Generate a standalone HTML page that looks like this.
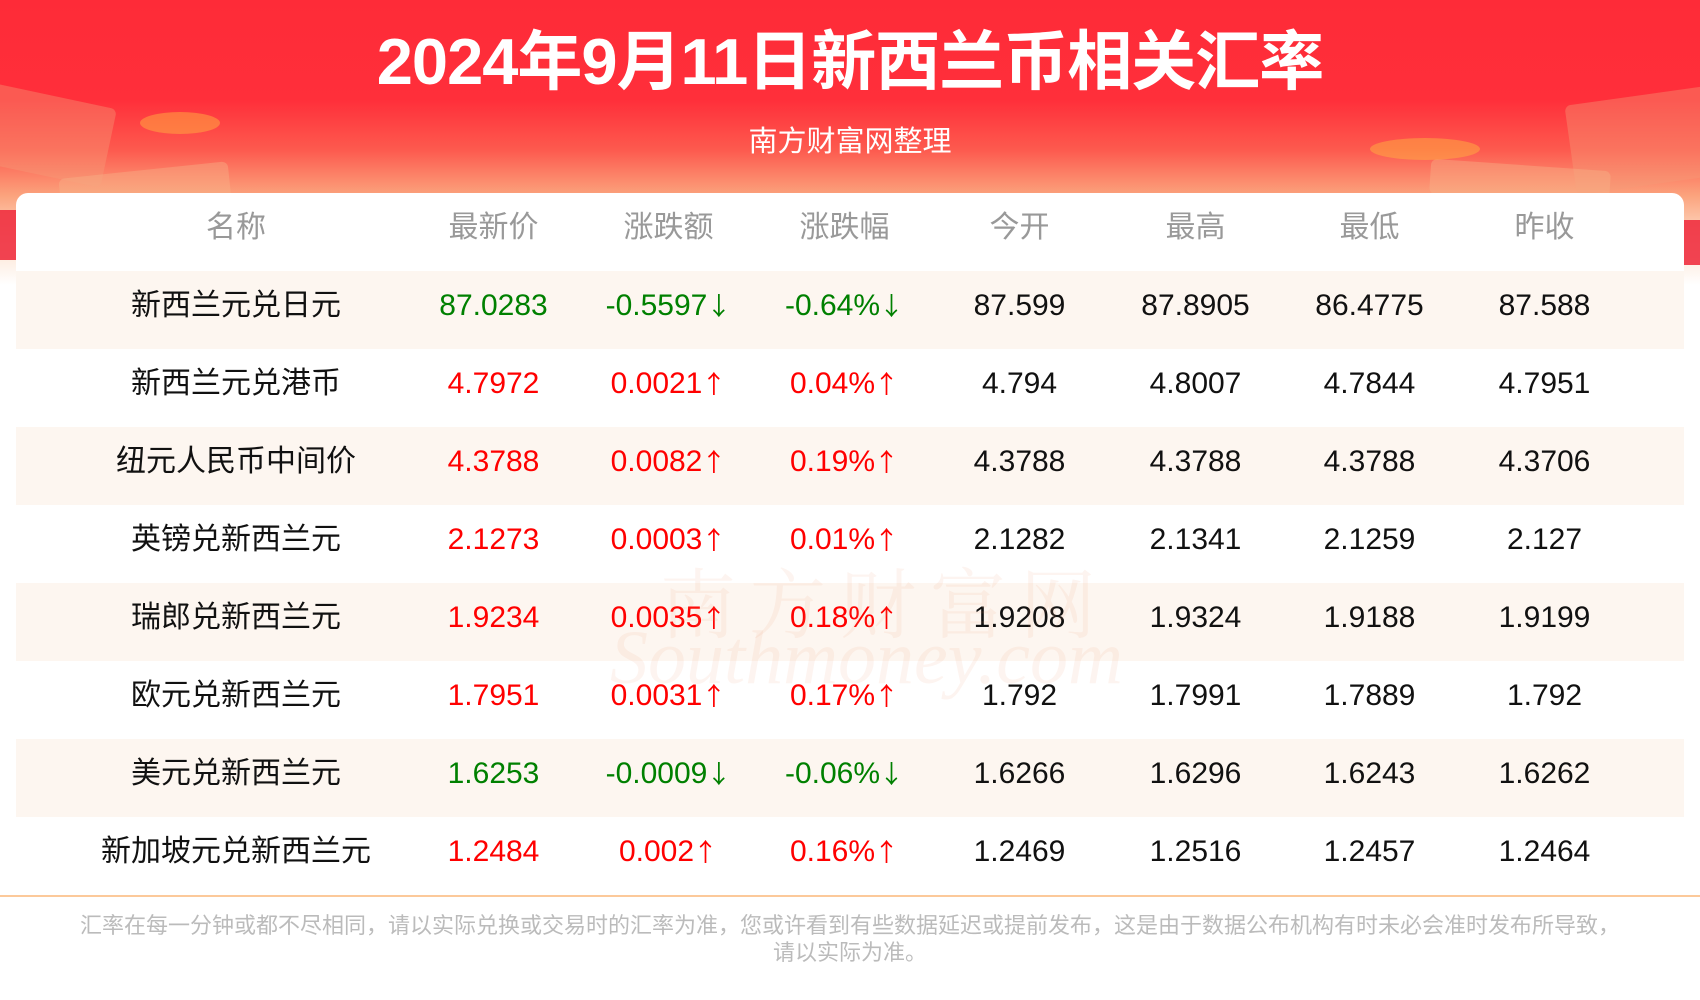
<!DOCTYPE html>
<html><head><meta charset="utf-8"><style>
*{margin:0;padding:0;box-sizing:border-box}
body{width:1700px;height:1000px;overflow:hidden;background:#fff;font-family:"Liberation Sans","Noto Sans CJK SC",sans-serif;position:relative}
.bg{position:absolute;left:0;top:0;width:1700px;height:290px;background:linear-gradient(#fe2b38 0,#ff2f3a 100px,#fd5a4e 150px,#fba27c 195px,#fde0cc 240px,#fff 285px)}
.deco{position:absolute;border-radius:6px;opacity:.4}
.title{position:absolute;left:0;top:24px;width:1700px;text-align:center;color:#fff;font-weight:bold;font-size:65px;line-height:76px;letter-spacing:-1px}
.sub{position:absolute;left:0;top:124px;width:1700px;text-align:center;color:#fff;font-size:29px;line-height:36px}
.card{position:absolute;left:16px;top:193px;width:1668px;height:703px;background:#fff;border-radius:12px 12px 0 0;overflow:hidden}
.row{position:absolute;left:0;width:1668px;height:78px}
.row.alt{background:#fdf6f0}
.c{position:absolute;top:-4px;height:78px;line-height:78px;text-align:center;font-size:30px;color:#111;white-space:nowrap}
.h .c{color:#999;font-size:30px;line-height:76px;top:-3px}
.a{font-family:"Noto Sans CJK SC",sans-serif;font-size:25px;line-height:0;display:inline-block;vertical-align:baseline;margin-left:-1px}
.r{color:#f00}.g{color:#008000}
.line{position:absolute;left:0;top:895px;width:1700px;height:2px;background:#fcc99a}
.foot{position:absolute;left:0;top:912px;width:1700px;text-align:center;color:#bbb;font-size:22px;line-height:27px}
.wm{position:absolute;left:660px;top:545px;font-size:76px;color:rgba(240,150,110,.10);letter-spacing:14px;font-family:"Noto Serif CJK SC",serif}
.wm2{position:absolute;left:610px;top:615px;font-size:76px;color:rgba(240,150,110,.10);font-style:italic;font-family:"Liberation Serif",serif}
</style></head><body>
<div class="bg"></div>
<div class="deco" style="left:-20px;top:95px;width:130px;height:80px;background:#f49a78;transform:rotate(12deg)"></div>
<div class="deco" style="left:60px;top:170px;width:170px;height:40px;background:#f7b38a;transform:rotate(-6deg)"></div>
<div class="deco" style="left:140px;top:112px;width:80px;height:22px;background:#ffb040;border-radius:50%;opacity:.5"></div>
<div class="deco" style="left:1570px;top:95px;width:150px;height:90px;background:#f49a78;transform:rotate(-8deg)"></div>
<div class="deco" style="left:1430px;top:165px;width:180px;height:35px;background:#f7b38a;transform:rotate(4deg)"></div>
<div class="deco" style="left:1370px;top:138px;width:110px;height:22px;background:#ffb040;border-radius:50%;opacity:.5"></div>
<div class="deco" style="left:0;top:210px;width:20px;height:50px;background:#f03040;opacity:.9;border-radius:0"></div>
<div class="deco" style="left:1684px;top:220px;width:16px;height:45px;background:#f03040;opacity:.9;border-radius:0"></div>
<div class="title">2024年9月11日新西兰币相关汇率</div>
<div class="sub">南方财富网整理</div>
<div class="card">
<div class="row h" style="top:0">
<div class="c" style="left:70px;width:300px">名称</div><div class="c" style="left:390px;width:175px">最新价</div><div class="c" style="left:565px;width:175px">涨跌额</div><div class="c" style="left:741px;width:175px">涨跌幅</div><div class="c" style="left:916px;width:175px">今开</div><div class="c" style="left:1092px;width:175px">最高</div><div class="c" style="left:1266px;width:175px">最低</div><div class="c" style="left:1441px;width:175px">昨收</div></div>
<div class="row alt" style="top:78px"><div class="c" style="left:70px;width:300px">新西兰元兑日元</div><div class="c g" style="left:390px;width:175px">87.0283</div><div class="c g" style="left:565px;width:175px">-0.5597<span class="a">↓</span></div><div class="c g" style="left:741px;width:175px">-0.64%<span class="a">↓</span></div><div class="c" style="left:916px;width:175px">87.599</div><div class="c" style="left:1092px;width:175px">87.8905</div><div class="c" style="left:1266px;width:175px">86.4775</div><div class="c" style="left:1441px;width:175px">87.588</div></div>
<div class="row" style="top:156px"><div class="c" style="left:70px;width:300px">新西兰元兑港币</div><div class="c r" style="left:390px;width:175px">4.7972</div><div class="c r" style="left:565px;width:175px">0.0021<span class="a">↑</span></div><div class="c r" style="left:741px;width:175px">0.04%<span class="a">↑</span></div><div class="c" style="left:916px;width:175px">4.794</div><div class="c" style="left:1092px;width:175px">4.8007</div><div class="c" style="left:1266px;width:175px">4.7844</div><div class="c" style="left:1441px;width:175px">4.7951</div></div>
<div class="row alt" style="top:234px"><div class="c" style="left:70px;width:300px">纽元人民币中间价</div><div class="c r" style="left:390px;width:175px">4.3788</div><div class="c r" style="left:565px;width:175px">0.0082<span class="a">↑</span></div><div class="c r" style="left:741px;width:175px">0.19%<span class="a">↑</span></div><div class="c" style="left:916px;width:175px">4.3788</div><div class="c" style="left:1092px;width:175px">4.3788</div><div class="c" style="left:1266px;width:175px">4.3788</div><div class="c" style="left:1441px;width:175px">4.3706</div></div>
<div class="row" style="top:312px"><div class="c" style="left:70px;width:300px">英镑兑新西兰元</div><div class="c r" style="left:390px;width:175px">2.1273</div><div class="c r" style="left:565px;width:175px">0.0003<span class="a">↑</span></div><div class="c r" style="left:741px;width:175px">0.01%<span class="a">↑</span></div><div class="c" style="left:916px;width:175px">2.1282</div><div class="c" style="left:1092px;width:175px">2.1341</div><div class="c" style="left:1266px;width:175px">2.1259</div><div class="c" style="left:1441px;width:175px">2.127</div></div>
<div class="row alt" style="top:390px"><div class="c" style="left:70px;width:300px">瑞郎兑新西兰元</div><div class="c r" style="left:390px;width:175px">1.9234</div><div class="c r" style="left:565px;width:175px">0.0035<span class="a">↑</span></div><div class="c r" style="left:741px;width:175px">0.18%<span class="a">↑</span></div><div class="c" style="left:916px;width:175px">1.9208</div><div class="c" style="left:1092px;width:175px">1.9324</div><div class="c" style="left:1266px;width:175px">1.9188</div><div class="c" style="left:1441px;width:175px">1.9199</div></div>
<div class="row" style="top:468px"><div class="c" style="left:70px;width:300px">欧元兑新西兰元</div><div class="c r" style="left:390px;width:175px">1.7951</div><div class="c r" style="left:565px;width:175px">0.0031<span class="a">↑</span></div><div class="c r" style="left:741px;width:175px">0.17%<span class="a">↑</span></div><div class="c" style="left:916px;width:175px">1.792</div><div class="c" style="left:1092px;width:175px">1.7991</div><div class="c" style="left:1266px;width:175px">1.7889</div><div class="c" style="left:1441px;width:175px">1.792</div></div>
<div class="row alt" style="top:546px"><div class="c" style="left:70px;width:300px">美元兑新西兰元</div><div class="c g" style="left:390px;width:175px">1.6253</div><div class="c g" style="left:565px;width:175px">-0.0009<span class="a">↓</span></div><div class="c g" style="left:741px;width:175px">-0.06%<span class="a">↓</span></div><div class="c" style="left:916px;width:175px">1.6266</div><div class="c" style="left:1092px;width:175px">1.6296</div><div class="c" style="left:1266px;width:175px">1.6243</div><div class="c" style="left:1441px;width:175px">1.6262</div></div>
<div class="row" style="top:624px"><div class="c" style="left:70px;width:300px">新加坡元兑新西兰元</div><div class="c r" style="left:390px;width:175px">1.2484</div><div class="c r" style="left:565px;width:175px">0.002<span class="a">↑</span></div><div class="c r" style="left:741px;width:175px">0.16%<span class="a">↑</span></div><div class="c" style="left:916px;width:175px">1.2469</div><div class="c" style="left:1092px;width:175px">1.2516</div><div class="c" style="left:1266px;width:175px">1.2457</div><div class="c" style="left:1441px;width:175px">1.2464</div></div>
</div>
<div class="wm">南方财富网</div>
<div class="wm2">Southmoney.com</div>
<div class="line"></div>
<div class="foot">汇率在每一分钟或都不尽相同，请以实际兑换或交易时的汇率为准，您或许看到有些数据延迟或提前发布，这是由于数据公布机构有时未必会准时发布所导致，<br>请以实际为准。</div>
</body></html>
